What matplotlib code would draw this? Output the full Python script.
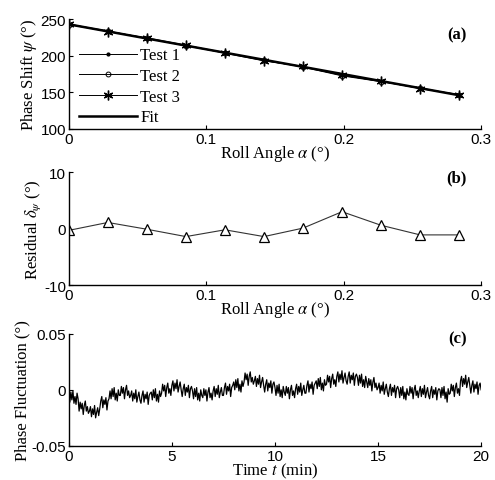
import matplotlib
matplotlib.use('Agg')
import matplotlib.pyplot as plt
import numpy as np

plt.rcParams['mathtext.fontset'] = 'stix'
plt.rcParams['axes.unicode_minus'] = False

# panel (a): phase shift vs roll angle
roll = [0, 0.0284, 0.0568, 0.0852, 0.1136, 0.142, 0.1704, 0.1988, 0.2272, 0.2556, 0.284]
test1 = [243.0, 234.0, 223.5, 214.0, 204.5, 193.5, 185.0, 173.5, 165.0, 155.5, 146.5]
test2 = [242.5, 233.5, 224.0, 213.5, 204.0, 194.0, 184.5, 172.5, 164.5, 156.0, 146.0]
test3 = [243.5, 233.0, 224.5, 214.5, 203.5, 193.0, 185.5, 173.0, 165.5, 155.0, 147.0]
fit_a = [243.0, 146.0]
fit_x = [0, 0.284]

# panel (b): residuals
resid = [-0.3, 1.1, -0.1, -1.4, -0.2, -1.4, 0.1, 3.0, 0.6, -1.1, -1.1]

# panel (c): phase fluctuation, 0.05 min steps (one row = 0.5 min)
fluct = [
    -0.004, -0.011, -0.002, -0.009, -0.001, -0.012, -0.006, -0.013, -0.003, -0.008,
    -0.019, -0.011, -0.017, -0.012, -0.022, -0.014, -0.010, -0.019, -0.015, -0.021,
    -0.019, -0.015, -0.024, -0.017, -0.022, -0.014, -0.025, -0.020, -0.016, -0.023,
    -0.017, -0.010, -0.006, -0.016, -0.009, -0.013, -0.007, -0.018, -0.010, -0.008,
    -0.001, -0.008, 0.001, -0.006, 0.002, -0.009, -0.003, -0.010, 0.000, -0.005,
    -0.005, 0.003, -0.003, 0.002, -0.008, 0.000, 0.004, -0.005, -0.001, -0.007,
    -0.005, -0.001, -0.010, -0.003, -0.008, 0.000, -0.011, -0.006, -0.002, -0.009,
    -0.012, -0.005, -0.001, -0.011, -0.004, -0.008, -0.002, -0.013, -0.005, -0.003,
    -0.002, -0.009, 0.000, -0.007, 0.001, -0.010, -0.004, -0.011, -0.001, -0.006,
    -0.003, 0.005, -0.001, 0.004, -0.006, 0.002, 0.006, -0.003, 0.001, -0.005,
    0.004, 0.008, -0.001, 0.006, 0.001, 0.009, -0.002, 0.003, 0.007, 0.000,
    -0.006, 0.001, 0.005, -0.005, 0.002, -0.002, 0.004, -0.007, 0.001, 0.003,
    -0.001, -0.008, 0.001, -0.006, 0.002, -0.009, -0.003, -0.010, 0.000, -0.005,
    -0.007, 0.001, -0.005, 0.000, -0.010, -0.002, 0.002, -0.007, -0.003, -0.009,
    -0.001, 0.003, -0.006, 0.001, -0.004, 0.004, -0.007, -0.002, 0.002, -0.005,
    -0.005, 0.002, 0.006, -0.004, 0.003, -0.001, 0.005, -0.006, 0.002, 0.004,
    0.007, 0.000, 0.009, 0.002, 0.010, -0.001, 0.005, -0.002, 0.008, 0.003,
    0.007, 0.015, 0.009, 0.014, 0.004, 0.012, 0.016, 0.007, 0.011, 0.005,
    0.008, 0.012, 0.003, 0.010, 0.005, 0.013, 0.002, 0.007, 0.011, 0.004,
    -0.002, 0.005, 0.009, -0.001, 0.006, 0.002, 0.008, -0.003, 0.005, 0.007,
    0.002, -0.005, 0.004, -0.003, 0.005, -0.006, 0.000, -0.007, 0.003, -0.002,
    -0.005, 0.003, -0.003, 0.002, -0.008, 0.000, 0.004, -0.005, -0.001, -0.007,
    0.001, 0.005, -0.004, 0.003, -0.002, 0.006, -0.005, 0.000, 0.004, -0.003,
    -0.003, 0.004, 0.008, -0.002, 0.005, 0.001, 0.007, -0.004, 0.004, 0.006,
    0.008, 0.001, 0.010, 0.003, 0.011, 0.000, 0.006, -0.001, 0.009, 0.004,
    0.005, 0.013, 0.007, 0.012, 0.002, 0.010, 0.014, 0.005, 0.009, 0.003,
    0.012, 0.016, 0.007, 0.014, 0.009, 0.017, 0.006, 0.011, 0.015, 0.008,
    0.005, 0.012, 0.016, 0.006, 0.013, 0.009, 0.015, 0.004, 0.012, 0.014,
    0.011, 0.004, 0.013, 0.006, 0.014, 0.003, 0.009, 0.002, 0.012, 0.007,
    0.002, 0.010, 0.004, 0.009, -0.001, 0.007, 0.011, 0.002, 0.006, 0.000,
    0.002, 0.006, -0.003, 0.004, -0.001, 0.007, -0.004, 0.001, 0.005, -0.002,
    -0.006, 0.001, 0.005, -0.005, 0.002, -0.002, 0.004, -0.007, 0.001, 0.003,
    0.000, -0.007, 0.002, -0.005, 0.003, -0.008, -0.002, -0.009, 0.001, -0.004,
    -0.005, 0.003, -0.003, 0.002, -0.008, 0.000, 0.004, -0.005, -0.001, -0.007,
    -0.001, 0.003, -0.006, 0.001, -0.004, 0.004, -0.007, -0.002, 0.002, -0.005,
    -0.008, -0.001, 0.003, -0.007, 0.000, -0.004, 0.002, -0.009, -0.001, 0.001,
    0.000, -0.007, 0.002, -0.005, 0.003, -0.008, -0.002, -0.011, 0.001, -0.004,
    -0.003, 0.005, -0.001, 0.004, -0.006, 0.002, 0.006, -0.003, 0.001, -0.005,
    0.008, 0.012, 0.003, 0.010, 0.005, 0.013, 0.002, 0.007, 0.011, 0.004,
    -0.003, 0.004, 0.008, -0.002, 0.005, 0.001, 0.007, -0.004, 0.004, 0.006,
    0.000,
]
time_min = np.arange(len(fluct)) * 0.05

serif = 'Liberation Serif'
sans = 'Liberation Sans'
tick_fs = 11
lab_fs = 12

fig = plt.figure(figsize=(4.95, 4.81), dpi=100)
ax1 = fig.add_axes([0.139, 0.730, 0.833, 0.228])
ax2 = fig.add_axes([0.139, 0.405, 0.833, 0.235])
ax3 = fig.add_axes([0.139, 0.071, 0.833, 0.233])


def style(ax):
    for s in ['top', 'right']:
        ax.spines[s].set_visible(False)
    for s in ['left', 'bottom']:
        ax.spines[s].set_linewidth(1.0)
    ax.tick_params(direction='in', length=3, width=0.8, pad=2)
    for lab in ax.get_xticklabels() + ax.get_yticklabels():
        lab.set_fontfamily(sans)
        lab.set_fontsize(tick_fs)


# (a)
ax1.plot(roll, test1, color='black', lw=0.7, marker='.', ms=4, label='Test 1')
ax1.plot(roll, test2, color='black', lw=0.7, marker='o', ms=3.5, mfc='none', mew=0.7, label='Test 2')
ax1.plot(roll, test3, color='black', lw=0.7, marker=(6, 2, 0), ms=7, mew=1.0, label='Test 3')
ax1.plot(fit_x, fit_a, color='black', lw=1.8, label='Fit')
ax1.set_xlim(0, 0.3)
ax1.set_ylim(100, 250)
ax1.set_xticks([0, 0.1, 0.2, 0.3])
ax1.set_xticklabels(['0', '0.1', '0.2', '0.3'])
ax1.set_yticks([100, 150, 200, 250])
style(ax1)
ax1.set_ylabel('Phase Shift $\\psi$ (°)', fontfamily=serif, fontsize=lab_fs, labelpad=1)
ax1.set_xlabel('Roll Angle $\\alpha$ (°)', fontfamily=serif, fontsize=lab_fs, labelpad=-2)
ax1.legend(loc='lower left', bbox_to_anchor=(0.0, -0.06), frameon=False, handlelength=3.5,
           handletextpad=0.2, labelspacing=0.28, borderaxespad=0.2,
           prop={'family': serif, 'size': 12})
ax1.text(0.965, 0.86, '(a)', transform=ax1.transAxes, ha='right', va='center',
         fontfamily=serif, fontsize=12, fontweight='bold')

# (b)
ax2.plot(roll, resid, color='#333333', lw=0.8, marker='^', ms=7, mfc='white', mec='black', mew=0.9)
ax2.set_xlim(0, 0.3)
ax2.set_ylim(-10, 10)
ax2.set_xticks([0, 0.1, 0.2, 0.3])
ax2.set_xticklabels(['0', '0.1', '0.2', '0.3'])
ax2.set_yticks([-10, 0, 10])
style(ax2)
ax2.set_ylabel('Residual $\\delta_\\psi$ (°)', fontfamily=serif, fontsize=lab_fs, labelpad=1)
ax2.set_xlabel('Roll Angle $\\alpha$ (°)', fontfamily=serif, fontsize=lab_fs, labelpad=-2)
ax2.text(0.965, 0.95, '(b)', transform=ax2.transAxes, ha='right', va='center',
         fontfamily=serif, fontsize=12, fontweight='bold')

# (c)
ax3.plot(time_min, fluct, color='black', lw=0.9)
ax3.set_xlim(0, 20)
ax3.set_ylim(-0.05, 0.05)
ax3.set_xticks([0, 5, 10, 15, 20])
ax3.set_yticks([-0.05, 0, 0.05])
ax3.set_yticklabels(['-0.05', '0', '0.05'])
style(ax3)
ax3.set_ylabel('Phase Fluctuation (°)', fontfamily=serif, fontsize=lab_fs, labelpad=1)
ax3.set_xlabel('Time $t$ (min)', fontfamily=serif, fontsize=lab_fs, labelpad=-1)
ax3.text(0.965, 0.96, '(c)', transform=ax3.transAxes, ha='right', va='center',
         fontfamily=serif, fontsize=12, fontweight='bold')

fig.savefig('out.png', dpi=100)
